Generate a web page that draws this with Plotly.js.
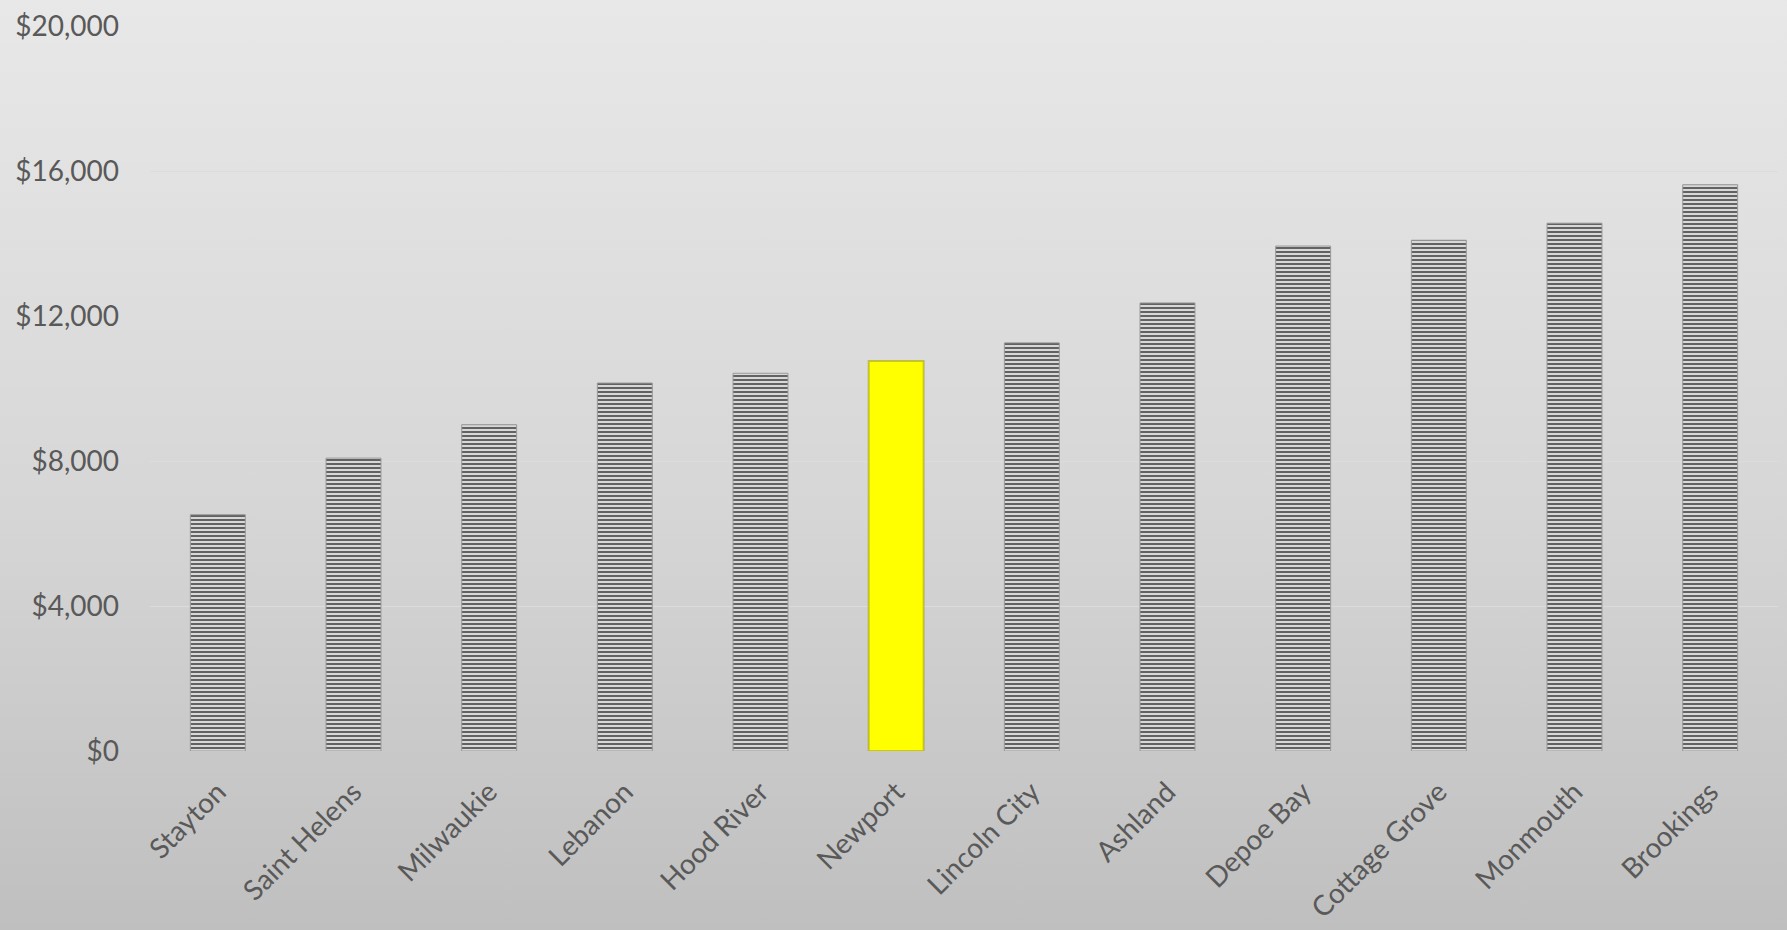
<!DOCTYPE html>
<html>
<head>
<meta charset="utf-8">
<script src="https://cdn.plot.ly/plotly-3.0.1.min.js"></script>
<style>
  html, body { margin: 0; padding: 0; }
  #chart {
    width: 1787px; height: 930px;
    background: linear-gradient(to bottom, #e8e8e8 0%, #d6d6d6 55%, #bfbfbf 100%);
  }
</style>
</head>
<body>
<div id="chart"></div>
<script>
const categories = ["Stayton", "Saint Helens", "Milwaukie", "Lebanon", "Hood River", "Newport",
  "Lincoln City", "Ashland", "Depoe Bay", "Cottage Grove", "Monmouth", "Brookings"];
const values = [6520, 8080, 9000, 10150, 10420, 10760, 11260, 12360, 13930, 14090, 14560, 15620];
const highlighted = "Newport";
const yTicks = [0, 4000, 8000, 12000, 16000, 20000];
const yTickLabels = ["$0", "$4,000", "$8,000", "$12,000", "$16,000", "$20,000"];

const isHi = categories.map(c => c === highlighted);

const trace = {
  type: "bar",
  x: categories,
  y: values,
  marker: {
    color: isHi.map(h => h ? "#ffff00" : "#d8d8d8"),
    line: { color: isHi.map(h => h ? "rgba(160,160,0,0.55)" : "#999999"), width: isHi.map(h => h ? 2 : 1) },
    pattern: {
      shape: isHi.map(h => h ? "" : "-"),
      size: 4,
      solidity: 0.4,
      fgcolor: "#7a7a7a",
      fgopacity: 1,
      fillmode: "overlay"
    }
  },
  hoverinfo: "x+y"
};

const font = { family: "Lato, 'Open Sans', sans-serif", color: "#595959", size: 28 };

const layout = {
  width: 1787, height: 930,
  paper_bgcolor: "rgba(0,0,0,0)",
  plot_bgcolor: "rgba(0,0,0,0)",
  margin: { l: 150, r: 9, t: 26, b: 179 },
  bargap: 0.595,
  showlegend: false,
  font: font,
  xaxis: {
    type: "category",
    tickangle: -45,
    tickfont: { family: font.family, color: "#595959", size: 28 },
    showgrid: false,
    zeroline: false,
    showline: false,
    ticks: "",
    ticklabelstandoff: 18
  },
  yaxis: {
    range: [0, 20000],
    tickmode: "array",
    tickvals: yTicks,
    ticktext: yTickLabels,
    tickfont: { family: font.family, color: "#595959", size: 28 },
    showgrid: true,
    gridcolor: "#dcdcdc",
    gridwidth: 1,
    zeroline: false,
    showline: false,
    ticks: "",
    ticklabelstandoff: 30
  }
};

Plotly.newPlot("chart", [trace], layout, { displayModeBar: false, staticPlot: true });
</script>
</body>
</html>
